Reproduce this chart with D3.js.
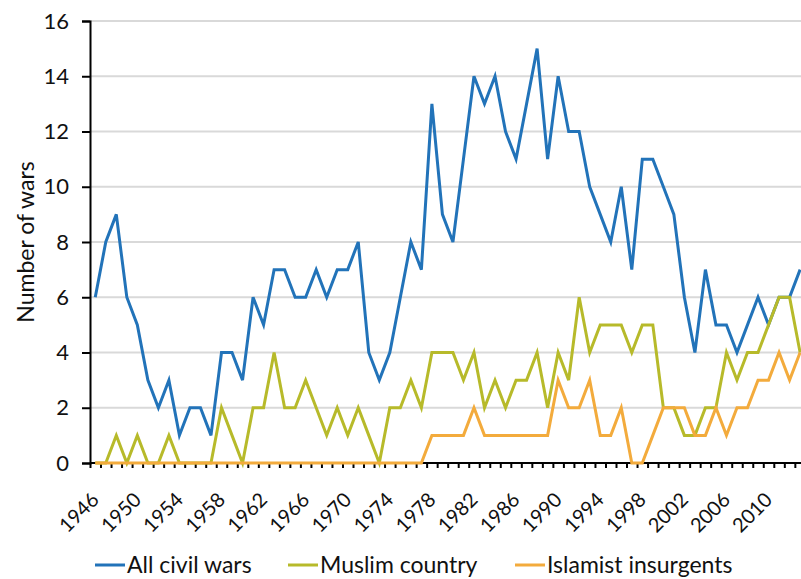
<!DOCTYPE html>
<html><head><meta charset="utf-8">
<script src="https://cdn.jsdelivr.net/npm/d3@7"></script>
<style>body{margin:0;background:#fff}svg{display:block;font-family:Lato,"Open Sans",sans-serif}</style>
</head><body><svg id="c" width="801" height="579"></svg>
<script>
const years = d3.range(1946, 2014);
const allCivilWars = [6,8,9,6,5,3,2,3,1,2,2,1,4,4,3,6,5,7,7,6,6,7,6,7,7,8,4,3,4,6,8,7,13,9,8,11,14,13,14,12,11,13,15,11,14,12,12,10,9,8,10,7,11,11,10,9,6,4,7,5,5,4,5,6,5,6,6,7];
const muslimCountry = [0,0,1,0,1,0,0,1,0,0,0,0,2,1,0,2,2,4,2,2,3,2,1,2,1,2,1,0,2,2,3,2,4,4,4,3,4,2,3,2,3,3,4,2,4,3,6,4,5,5,5,4,5,5,2,2,1,1,2,2,4,3,4,4,5,6,6,4];
const islamistInsurgents = [0,0,0,0,0,0,0,0,0,0,0,0,0,0,0,0,0,0,0,0,0,0,0,0,0,0,0,0,0,0,0,0,1,1,1,1,2,1,1,1,1,1,1,1,3,2,2,3,1,1,2,0,0,1,2,2,2,1,1,2,1,2,2,3,3,4,3,4];
const seriesNames = ["All civil wars","Muslim country","Islamist insurgents"];
const seriesColors = ["#2273b9","#b7ba2a","#f3ab3c"];
const yTicks = [0,2,4,6,8,10,12,14,16];
const xLabelYears = d3.range(1946, 2014, 4);

const svg = d3.select("#c");
const L = 90, T = 21, B = 463, R = 90 + 68*10.52;
const x = d3.scaleLinear().domain([0, years.length]).range([L, R]);
const y = d3.scaleLinear().domain([0,16]).range([B, T]);

// gridlines
svg.append("g").selectAll("line").data(yTicks.filter(d=>d>0)).join("line")
  .attr("x1", L).attr("x2", R).attr("y1", d=>y(d)).attr("y2", d=>y(d))
  .attr("stroke", "#d9d9d9").attr("stroke-width", 2);

// y axis
const yAxis = svg.append("g").attr("transform", `translate(${L},0)`)
  .call(d3.axisLeft(y).tickValues(yTicks).tickSize(8).tickPadding(13));
yAxis.select(".domain").attr("stroke","#000").attr("stroke-width",2);
yAxis.selectAll(".tick line").attr("stroke","#000").attr("stroke-width",2);
yAxis.selectAll(".tick text").attr("font-size",22).attr("fill","#111").attr("font-family","Lato,sans-serif");

// x axis ticks (year boundaries)
const xAxis = svg.append("g").attr("transform", `translate(0,${B})`)
  .call(d3.axisBottom(x).tickValues(d3.range(0, years.length+1)).tickSize(5).tickFormat(""));
xAxis.select(".domain").remove();
xAxis.selectAll(".tick line").attr("stroke","#000").attr("stroke-width",2);
svg.append("line").attr("x1",L).attr("x2",R).attr("y1",B).attr("y2",B).attr("stroke","#000").attr("stroke-width",2);

// x labels
svg.append("g").selectAll("text").data(xLabelYears).join("text")
  .attr("transform", d => `translate(${x(years.indexOf(d)+0.5)+5},${B+38}) rotate(-45)`)
  .attr("text-anchor","end")
  .attr("font-size",20).attr("fill","#111").text(d=>d);

// lines: blue first, then olive, orange on top
const line = d3.line().x((d,i)=>x(i+0.5)).y(d=>y(d));
[allCivilWars, muslimCountry, islamistInsurgents].forEach((s, i) => {
  svg.append("path").datum(s).attr("d", line).attr("fill","none")
    .attr("stroke", seriesColors[i]).attr("stroke-width", 3).attr("stroke-linejoin","miter");
});

// y title
svg.append("text").attr("transform","translate(34,242) rotate(-90)").attr("text-anchor","middle")
  .attr("font-size",23).attr("fill","#111").text("Number of wars");

// legend
const legendX = [95, 288, 515];
const lg = svg.append("g").selectAll("g").data(seriesNames).join("g")
  .attr("transform",(d,i)=>`translate(${legendX[i]},565)`);
lg.append("line").attr("x1",0).attr("x2",30).attr("stroke",(d,i)=>seriesColors[i]).attr("stroke-width",3);
lg.append("text").attr("x",32).attr("dy","0.35em").attr("font-size",23).attr("fill","#111").text(d=>d);
</script></body></html>
